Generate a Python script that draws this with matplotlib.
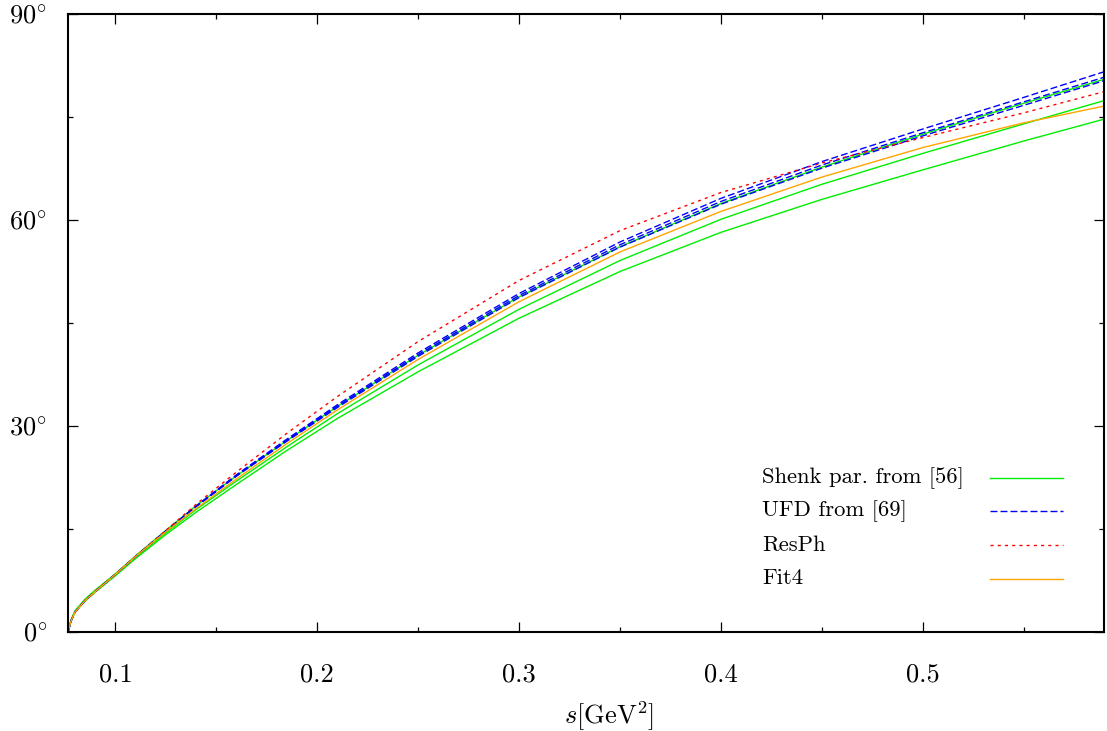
import matplotlib
matplotlib.use('Agg')
import matplotlib.pyplot as plt
from matplotlib.ticker import MultipleLocator, FixedLocator

# values (s in GeV^2, phase in degrees)
s_vals = [0.0765, 0.078, 0.08, 0.085, 0.09, 0.1, 0.11, 0.125, 0.14, 0.16,
          0.185, 0.21, 0.25, 0.3, 0.35, 0.4, 0.45, 0.5, 0.55, 0.59]

shenk_up = [0, 1.8, 3.1, 4.8, 6.1, 8.5, 11.1, 14.8, 18.4, 22.75,
            27.9, 32.85, 40.3, 48.8, 56.1, 62.4, 67.7, 72.5, 77.0, 80.5]
shenk_mid = [0, 1.7, 3.0, 4.7, 6.0, 8.4, 10.9, 14.45, 17.85, 22.0,
             27.0, 31.8, 38.9, 47.0, 54.1, 60.1, 65.2, 69.7, 74.0, 77.4]
shenk_lo = [0, 1.6, 2.9, 4.5, 5.8, 8.2, 10.7, 14.2, 17.45, 21.5,
            26.45, 31.1, 37.9, 45.7, 52.5, 58.2, 63.0, 67.3, 71.5, 74.7]

ufd_up = [0, 1.6, 2.9, 4.6, 5.9, 8.4, 11.0, 14.7, 18.35, 22.9,
          28.1, 33.1, 40.65, 49.3, 56.8, 63.15, 68.5, 73.25, 77.85, 81.6]
ufd_mid = [0, 1.6, 2.9, 4.6, 5.9, 8.4, 11.0, 14.7, 18.3, 22.8,
           27.95, 32.9, 40.4, 49.0, 56.4, 62.7, 68.0, 72.7, 77.2, 80.8]
ufd_lo = [0, 1.6, 2.9, 4.6, 5.9, 8.4, 11.0, 14.7, 18.25, 22.7,
          27.8, 32.7, 40.15, 48.7, 56.05, 62.3, 67.55, 72.25, 76.7, 80.3]

resph = [0, 1.6, 2.9, 4.6, 5.9, 8.4, 11.0, 14.8, 18.6, 23.3,
         28.95, 34.3, 42.3, 51.2, 58.45, 64.0, 68.3, 72.0, 75.6, 78.7]

fit4 = [0, 1.6, 2.9, 4.6, 5.9, 8.4, 11.0, 14.6, 18.0, 22.3,
        27.45, 32.35, 39.7, 48.1, 55.35, 61.25, 66.25, 70.55, 74.15, 76.6]

y_ticks = [0, 30, 60, 90]
y_labels = [r'$0^{\circ}$', r'$30^{\circ}$', r'$60^{\circ}$', r'$90^{\circ}$']

labels = ['Shenk par. from [56]', 'UFD from [69]', 'ResPh', 'Fit4']

# latex-like look
plt.rcParams['font.family'] = 'serif'
plt.rcParams['font.serif'] = ['cmr10', 'DejaVu Serif']
plt.rcParams['mathtext.fontset'] = 'cm'
plt.rcParams['axes.unicode_minus'] = False
plt.rcParams['axes.formatter.use_mathtext'] = True

fig = plt.figure(figsize=(11.07, 7.31), dpi=100)
ax = fig.add_axes([68/1107, 99/731, 1036/1107, 618/731])

green = dict(color='#00ee00', lw=1.0)
blue = dict(color='#0000ff', lw=1.0, dashes=(5, 2.2))
red = dict(color='#ff0000', lw=1.0, dashes=(2.2, 3))
orange = dict(color='#ffa500', lw=1.0)

ax.plot(s_vals, shenk_mid, **green)
ax.plot(s_vals, shenk_up, **green)
ax.plot(s_vals, shenk_lo, **green)
ax.plot(s_vals, ufd_mid, **blue)
ax.plot(s_vals, ufd_up, **blue)
ax.plot(s_vals, ufd_lo, **blue)
ax.plot(s_vals, resph, **red)
ax.plot(s_vals, fit4, **orange)

ax.set_xlim(0.0765, 0.5898)
ax.set_ylim(0, 90)

ax.xaxis.set_major_locator(MultipleLocator(0.1))
ax.xaxis.set_minor_locator(MultipleLocator(0.05))
ax.xaxis.set_major_formatter(plt.FormatStrFormatter('%.1f'))
ax.yaxis.set_major_locator(FixedLocator(y_ticks))
ax.set_yticklabels(y_labels)
ax.yaxis.set_minor_locator(MultipleLocator(15))

ax.tick_params(which='both', direction='in', top=True, right=True, width=0.9)
ax.tick_params(which='major', length=7.2, labelsize=19)
ax.tick_params(axis='x', which='major', pad=22)
ax.tick_params(axis='y', which='major', pad=15)
ax.tick_params(which='minor', length=3.6)
for sp in ax.spines.values():
    sp.set_linewidth(1.5)

ax.set_xlabel(r'$s[\mathrm{GeV}^2]$', fontsize=19)
ax.xaxis.label.set_verticalalignment('center')
ax.xaxis.set_label_coords(0.522, -0.136)

# legend drawn by hand: text on the left, sample line on the right
styles = [green, blue, red, orange]
for i in range(len(labels)):
    yy = 0.2497 - i*0.0545
    ax.text(0.670, yy, labels[i], transform=ax.transAxes, va='center', ha='left', fontsize=16.3)
    ax.plot([0.890, 0.960], [yy, yy], transform=ax.transAxes, **styles[i])

plt.savefig('out.png', dpi=100)
